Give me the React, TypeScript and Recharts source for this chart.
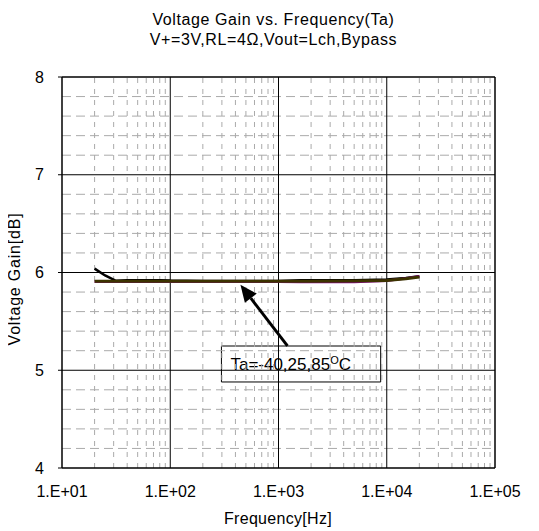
import { Line, LineChart, ReferenceArea, ReferenceLine, XAxis, YAxis } from "recharts";

const freq = [20, 25, 31.5, 40, 50, 63, 80, 100, 200, 500, 1000, 1600, 2000, 5000, 10000, 15000, 20000];
const tMinus40 = [6.04, 5.97, 5.915, 5.922, 5.922, 5.922, 5.922, 5.918, 5.914, 5.914, 5.914, 5.92, 5.922, 5.922, 5.928, 5.945, 5.962];
const t25 = [5.905, 5.905, 5.905, 5.905, 5.905, 5.905, 5.905, 5.905, 5.905, 5.905, 5.905, 5.903, 5.903, 5.904, 5.915, 5.94, 5.962];
const t85 = [5.91, 5.91, 5.91, 5.91, 5.91, 5.91, 5.91, 5.91, 5.91, 5.91, 5.91, 5.91, 5.91, 5.912, 5.918, 5.936, 5.955];

const xTicks = [10, 100, 1000, 10000, 100000];
const yTicks = [4, 5, 6, 7, 8];
const xMinor = [20, 30, 40, 50, 60, 70, 80, 90, 200, 300, 400, 500, 600, 700, 800, 900,
  2000, 3000, 4000, 5000, 6000, 7000, 8000, 9000, 20000, 30000, 40000, 50000, 60000, 70000, 80000, 90000];
const yMinor = [4.2, 4.4, 4.6, 4.8, 5.2, 5.4, 5.6, 5.8, 6.2, 6.4, 6.6, 6.8, 7.2, 7.4, 7.6, 7.8];

const data = freq.map((f, i) => ({ f, a: tMinus40[i], b: t25[i], c: t85[i] }));

const FONT = "'Liberation Sans', Arial, sans-serif";

function Arrow(props: any) {
  const { x1, y1, x2, y2 } = props;
  const ang = Math.atan2(y2 - y1, x2 - x1);
  const len = 17;
  const w = 7.5;
  const bx = x2 - len * Math.cos(ang);
  const by = y2 - len * Math.sin(ang);
  const px = -Math.sin(ang) * w;
  const py = Math.cos(ang) * w;
  return (
    <g>
      <line x1={x1} y1={y1} x2={bx} y2={by} stroke="#000" strokeWidth={3} />
      <polygon points={`${x2},${y2} ${bx + px},${by + py} ${bx - px},${by - py}`} fill="#000" />
    </g>
  );
}

function BoxLabel(props: any) {
  const vb = props.viewBox || {};
  return (
    <text x={vb.x + 9} y={vb.y + vb.height / 2 + 6} fontSize={17} fontFamily={FONT} fill="#000">
      Ta=-40,25,85
      <tspan fontSize={11} dy={-6}>O</tspan>
      <tspan dy={6}>C</tspan>
    </text>
  );
}

const fmt = (v: number) => "1.E+" + String(Math.round(Math.log10(v))).padStart(2, "0");

const tickStyle = { fill: "#000", fontSize: 16, fontFamily: FONT };

export default function App() {
  return (
    <div style={{ position: "relative", width: 531, height: 523, fontFamily: FONT, color: "#000" }}>
      <div style={{ position: "absolute", left: 0, top: 0, width: 531, textAlign: "center", fontSize: 16, lineHeight: "20px", paddingTop: 2, letterSpacing: 0.6 }}>
        <div>Voltage Gain vs. Frequency(Ta)</div>
        <div>V+=3V,RL=4Ω,Vout=Lch,Bypass</div>
      </div>
      <div style={{ position: "absolute", left: 7, top: 271, transform: "translate(-50%, -50%) rotate(-90deg)", whiteSpace: "nowrap", fontSize: 16, letterSpacing: 0.8 }}>
        Voltage Gain[dB]
      </div>
      <div style={{ position: "absolute", left: 270, top: 511, transform: "translate(-50%, -50%)", whiteSpace: "nowrap", fontSize: 16, letterSpacing: 0.3 }}>
        Frequency[Hz]
      </div>
      <LineChart width={531} height={515} data={data} margin={{ top: 69, right: 44, left: 0, bottom: 14 }}>
        {yMinor.map((v) => (
          <ReferenceLine key={"ym" + v} y={v} stroke="#aaaaaa" strokeDasharray="9 5" />
        ))}
        {xMinor.map((v) => (
          <ReferenceLine key={"xm" + v} x={v} stroke="#aaaaaa" strokeDasharray="5 6" />
        ))}
        {yTicks.map((v) => (
          <ReferenceLine key={"y" + v} y={v} stroke="#000" strokeWidth={v === 4 || v === 8 ? 1.5 : 1} />
        ))}
        {xTicks.map((v) => (
          <ReferenceLine key={"x" + v} x={v} stroke="#000" strokeWidth={v === 10 || v === 100000 ? 1.5 : 1} />
        ))}
        <XAxis
          dataKey="f"
          type="number"
          scale="log"
          domain={[10, 100000]}
          ticks={xTicks}
          tickFormatter={fmt}
          allowDataOverflow
          axisLine={false}
          tickLine={false}
          tickMargin={12}
          height={41}
          tick={tickStyle}
        />
        <YAxis
          type="number"
          domain={[4, 8]}
          ticks={yTicks}
          allowDataOverflow
          axisLine={false}
          tickLine={{ stroke: "#000" }}
          tickSize={4}
          tickMargin={14}
          width={54}
          tick={tickStyle}
        />
        <Line type="linear" dataKey="a" stroke="#000000" strokeWidth={2.5} dot={false} isAnimationActive={false} />
        <Line type="linear" dataKey="b" stroke="#8a008a" strokeWidth={2.5} dot={false} isAnimationActive={false} />
        <Line type="linear" dataKey="c" stroke="#3c3300" strokeWidth={3} dot={false} isAnimationActive={false} />
        <ReferenceLine segment={[{ x: 1210, y: 5.25 }, { x: 445, y: 5.875 }]} shape={<Arrow />} />
        <ReferenceArea x1={297} x2={8790} y1={4.88} y2={5.248} fill="#fff" fillOpacity={1} stroke="#000" strokeWidth={1} label={<BoxLabel />} />
      </LineChart>
    </div>
  );
}
